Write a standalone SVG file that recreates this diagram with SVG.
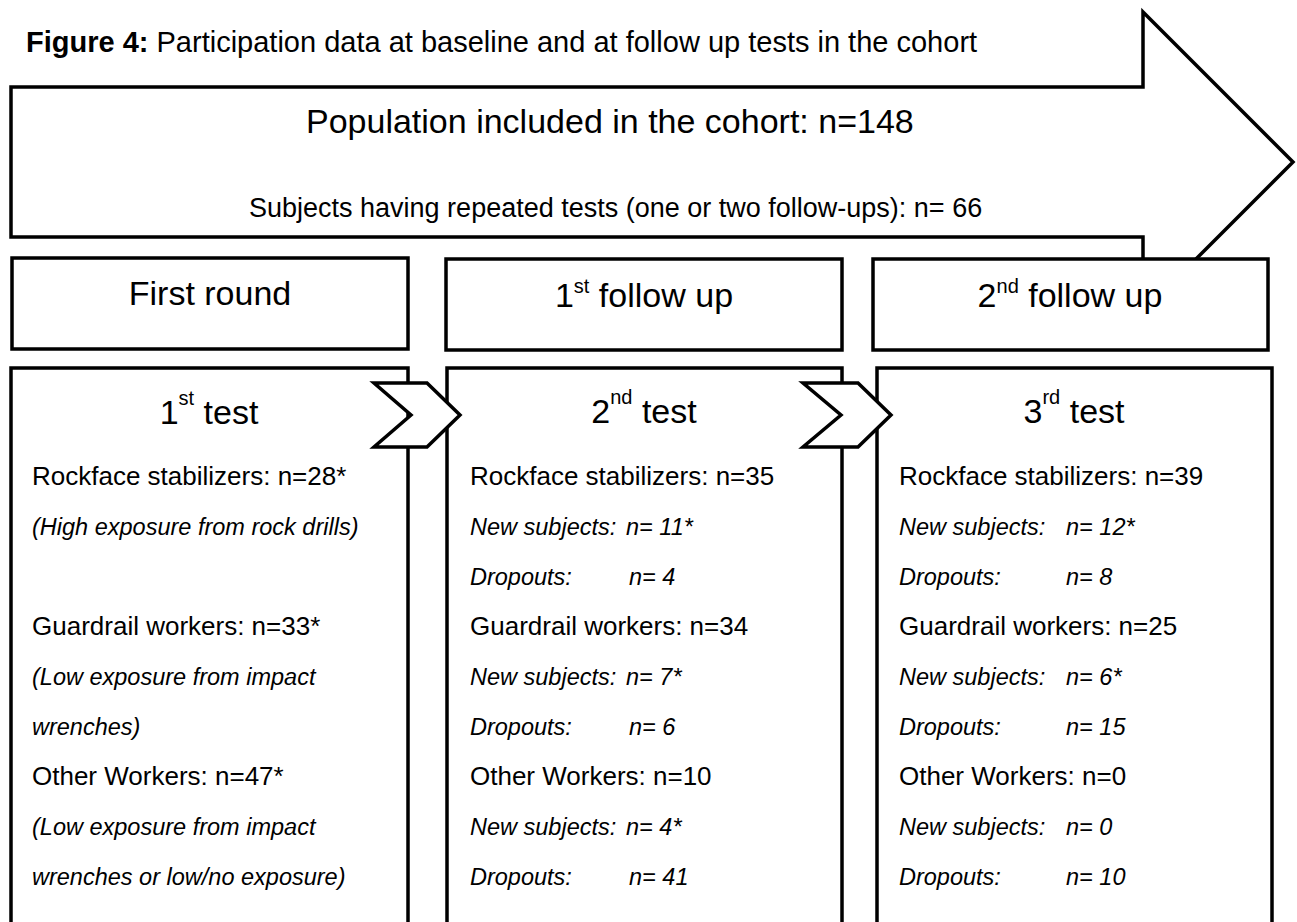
<svg xmlns="http://www.w3.org/2000/svg" width="1297" height="922" viewBox="0 0 1297 922">
<style>
text{font-family:"Liberation Sans",Arial,sans-serif;fill:#000}
.title{font-size:29px}
.big{font-size:34px}
.sub{font-size:27px}
.hdr{font-size:34px;text-anchor:middle}
.sup{font-size:20px}
.r{font-size:26px}
.i{font-size:23.5px;font-style:italic}
.box{fill:#fff;stroke:#000;stroke-width:3.5}
.shape{fill:#fff;stroke:#000;stroke-width:3.5;stroke-linejoin:miter}
</style>
<rect width="1297" height="922" fill="#fff"/>
<text class="title" x="26" y="52"><tspan font-weight="bold">Figure 4:</tspan> Participation data at baseline and at follow up tests in the cohort</text>

<g id="cohort-arrow">
<polygon class="shape" points="11,87 1143,87 1143,12 1293,162 1143,312 1143,237 11,237"/>
<text class="big" x="306" y="133">Population included in the cohort: n=148</text>
<text class="sub" x="249" y="217">Subjects having repeated tests (one or two follow-ups): n= 66</text>
</g>

<g id="hdr-first-round">
<rect class="box" x="12" y="258" width="396" height="91"/>
<text class="hdr" x="210" y="305">First round</text>
</g>
<g id="hdr-follow-up-1">
<rect class="box" x="446" y="259" width="396" height="91"/>
<text class="hdr" x="644" y="307">1<tspan class="sup" dy="-14">st</tspan><tspan dy="14"> follow up</tspan></text>
</g>
<g id="hdr-follow-up-2">
<rect class="box" x="873" y="259" width="395" height="91"/>
<text class="hdr" x="1070" y="307">2<tspan class="sup" dy="-14">nd</tspan><tspan dy="14"> follow up</tspan></text>
</g>

<g id="test-1">
<rect class="box" x="11" y="368" width="397" height="600"/>
<text class="hdr" x="209" y="424">1<tspan class="sup" dy="-19">st</tspan><tspan dy="19"> test</tspan></text>
<text class="r" x="32" y="485">Rockface stabilizers: n=28*</text>
<text class="i" x="32" y="535">(High exposure from rock drills)</text>
<text class="r" x="32" y="635">Guardrail workers: n=33*</text>
<text class="i" x="32" y="685">(Low exposure from impact</text>
<text class="i" x="32" y="735">wrenches)</text>
<text class="r" x="32" y="785">Other Workers: n=47*</text>
<text class="i" x="32" y="835">(Low exposure from impact</text>
<text class="i" x="32" y="885">wrenches or low/no exposure)</text>
</g>

<g id="test-2">
<rect class="box" x="447" y="368" width="395" height="600"/>
<text class="hdr" x="644" y="423">2<tspan class="sup" dy="-19">nd</tspan><tspan dy="19"> test</tspan></text>
<text class="r" x="470" y="485">Rockface stabilizers: n=35</text>
<text class="i" x="470" y="535">New subjects: <tspan x="626">n= 11*</tspan></text>
<text class="i" x="470" y="585">Dropouts: <tspan x="629">n= 4</tspan></text>
<text class="r" x="470" y="635">Guardrail workers: n=34</text>
<text class="i" x="470" y="685">New subjects: <tspan x="626">n= 7*</tspan></text>
<text class="i" x="470" y="735">Dropouts: <tspan x="629">n= 6</tspan></text>
<text class="r" x="470" y="785">Other Workers: n=10</text>
<text class="i" x="470" y="835">New subjects: <tspan x="626">n= 4*</tspan></text>
<text class="i" x="470" y="885">Dropouts: <tspan x="629">n= 41</tspan></text>
</g>

<g id="test-3">
<rect class="box" x="877" y="368" width="395" height="600"/>
<text class="hdr" x="1074" y="423">3<tspan class="sup" dy="-19">rd</tspan><tspan dy="19"> test</tspan></text>
<text class="r" x="899" y="485">Rockface stabilizers: n=39</text>
<text class="i" x="899" y="535">New subjects: <tspan x="1066">n= 12*</tspan></text>
<text class="i" x="899" y="585">Dropouts: <tspan x="1066">n= 8</tspan></text>
<text class="r" x="899" y="635">Guardrail workers: n=25</text>
<text class="i" x="899" y="685">New subjects: <tspan x="1066">n= 6*</tspan></text>
<text class="i" x="899" y="735">Dropouts: <tspan x="1066">n= 15</tspan></text>
<text class="r" x="899" y="785">Other Workers: n=0</text>
<text class="i" x="899" y="835">New subjects: <tspan x="1066">n= 0</tspan></text>
<text class="i" x="899" y="885">Dropouts: <tspan x="1066">n= 10</tspan></text>
</g>

<g id="connectors">
<polygon class="shape" points="374,383 427,383 460,415 427,447 374,447 411,415"/>
<polygon class="shape" points="803,383 858,383 891,415 858,447 803,447 841,415"/>
</g>
</svg>
